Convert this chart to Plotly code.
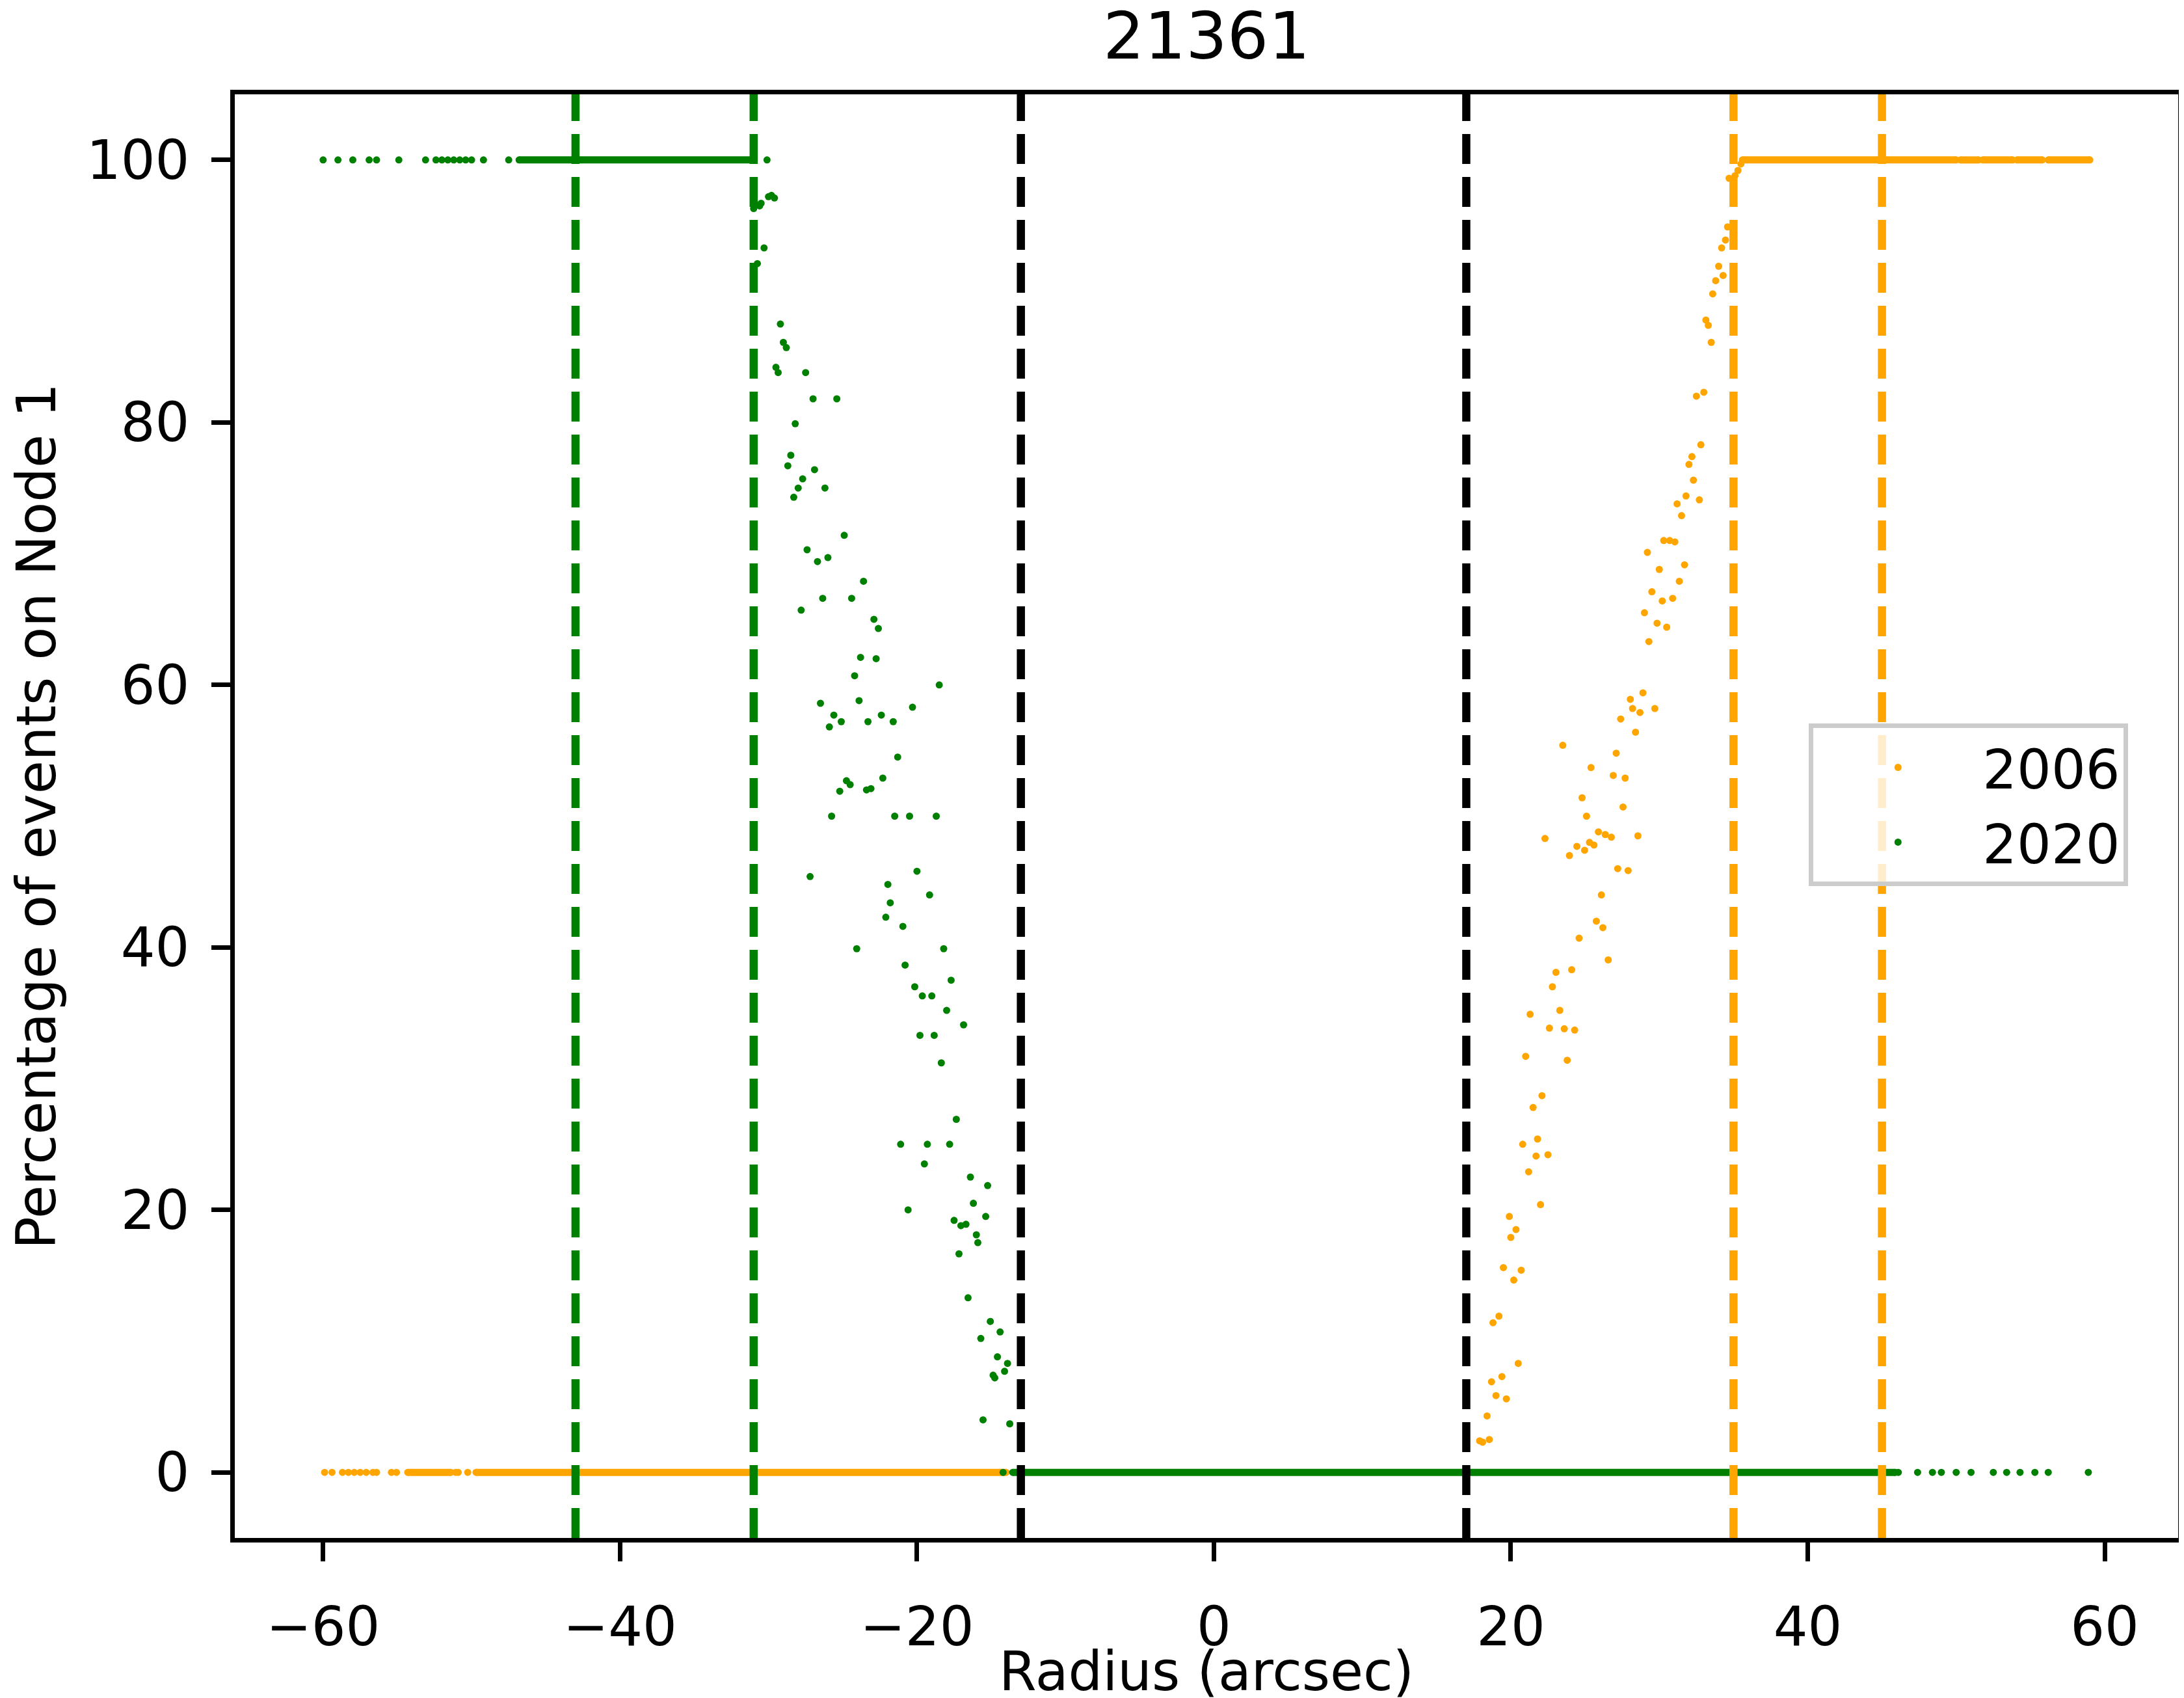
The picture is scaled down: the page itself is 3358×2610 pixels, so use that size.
import plotly.graph_objects as go

# ---------------- text ----------------
title_text = "21361"
x_label = "Radius (arcsec)"
y_label = "Percentage of events on Node 1"
series_names = ["2006", "2020"]
series_colors = ["orange", "green"]

# ---------------- ticks ----------------
x_ticks = [-60, -40, -20, 0, 20, 40, 60]
x_tick_labels = ["\u221260", "\u221240", "\u221220", "0", "20", "40", "60"]
y_ticks = [0, 20, 40, 60, 80, 100]
y_tick_labels = ["0", "20", "40", "60", "80", "100"]

# ---------------- vertical reference lines ----------------
green_lines_x = [-43, -31]
black_lines_x = [-13, 17]
orange_lines_x = [35, 45]

# ---------------- 2006 (orange) ----------------
# isolated points lying on the 0 % level
o_zero_x = [-59.9, -59.4, -58.7, -58.3, -57.9, -57.5, -57.1, -56.65, -56.4,
            -55.4, -55.06, -51.07, -50.9, -50.26]
# transition points
o_mid_x = [17.9, 18.1, 18.55, 18.4, 19.0, 19.7, 19.4, 18.7, 20.5, 19.2, 18.8,
           19.5, 20.7, 20.2, 19.9, 20.35, 20.0, 22.0, 21.2, 21.7, 22.5, 21.8,
           20.8, 21.5, 22.1, 21.0, 23.8, 22.6, 23.6, 24.3, 21.3, 23.3, 22.8,
           23.04, 24.1, 26.56, 24.6, 25.76, 26.2, 26.1, 27.2, 27.9, 24.45,
           23.95, 24.97, 25.3, 25.6, 22.3, 25.9, 26.36, 26.77, 28.56, 25.1,
           27.56, 24.8, 26.9, 27.7, 25.4, 27.1, 23.5, 28.4, 27.4, 28.2, 28.7,
           29.7, 28.05, 28.9, 29.3, 29.85, 30.5, 29.0, 30.2, 30.9, 29.5, 31.35,
           30.0, 31.7, 29.2, 30.3, 30.7, 31.05, 31.5, 31.2, 32.7, 31.8, 32.3,
           32.0, 32.2, 32.8, 32.5, 33.0, 33.5, 33.3, 33.14, 33.6, 33.8, 34.3,
           34.0, 34.2, 34.46, 34.6, 34.7, 35.1, 35.3, 35.5]
o_mid_y = [2.4, 2.3, 2.5, 4.3, 5.85, 5.6, 7.3, 6.9, 8.3, 11.9, 11.4,
           15.6, 15.4, 14.65, 19.5, 18.5, 17.9, 20.4, 22.9, 24.1, 24.2, 25.4,
           25.0, 27.8, 28.7, 31.7, 31.4, 33.85, 33.8, 33.7, 34.9, 35.2, 37.0,
           38.1, 38.3, 39.05, 40.7, 42.0, 41.5, 44.0, 46.0, 45.85, 47.7,
           47.0, 47.4, 48.0, 47.8, 48.3, 48.8, 48.6, 48.4, 48.5, 50.0,
           50.7, 51.4, 53.1, 52.9, 53.7, 54.8, 55.4, 56.4, 57.4, 58.2, 57.9,
           58.2, 58.9, 59.4, 63.3, 64.7, 64.4, 65.5, 66.4, 66.6, 67.1, 67.9,
           68.8, 69.15, 70.1, 71.0, 71.0, 70.9, 72.9, 73.8, 74.1, 74.4, 75.6,
           76.8, 77.4, 78.3, 82.0, 82.3, 86.1, 87.4, 87.8, 89.8, 90.8, 91.2,
           91.9, 93.3, 93.9, 94.9, 98.6, 98.8, 99.2, 99.7]
# densely sampled runs (consecutive points overlap into a solid band)
o_run_start = [-54.3, -49.7, 35.6, 50.3, 51.8, 54.1, 56.2]
o_run_end = [-51.4, -14.0, 50.0, 51.5, 53.8, 55.8, 59.0]
o_run_level = [0, 0, 100, 100, 100, 100, 100]

# ---------------- 2020 (green) ----------------
g_top_x = [-60.0, -59.0, -58.0, -56.9, -56.4, -54.9, -53.1, -52.4, -52.0,
           -51.6, -51.2, -50.8, -50.4, -50.0, -49.2, -47.5]
g_mid_x = [-30.1, -29.8, -29.6, -30.0, -30.5, -30.6, -31.0, -30.3, -30.75,
           -29.2, -29.0, -28.8, -29.5, -29.35, -27.5, -27.0, -25.4, -28.2,
           -28.5, -28.7, -26.9, -27.7, -28.0, -26.2, -28.3, -24.9, -27.4,
           -26.7, -26.0, -23.6, -26.35, -24.4, -27.8, -22.9, -22.6, -23.8,
           -22.75, -24.2, -18.5, -26.5, -23.9, -20.3, -25.6, -22.4, -25.1,
           -23.3, -21.6, -25.9, -21.3, -22.3, -24.75, -24.5, -25.2, -23.4,
           -23.1, -25.75, -21.5, -20.5, -18.7,
           -27.2, -20.0, -21.96, -19.15, -21.8, -22.1, -20.95, -24.06, -18.2,
           -20.8, -17.7, -20.15, -19.64, -19.0, -18.0, -16.86, -19.8, -18.84,
           -18.36, -17.35, -21.1, -19.3, -17.8, -19.5, -16.4, -15.24, -20.6,
           -16.2, -15.37, -17.5, -17.04, -16.7, -16.0, -15.9, -17.17, -16.56,
           -15.06, -14.4, -15.7, -14.58, -13.9, -14.1, -14.87, -14.76, -15.55,
           -13.75, -14.2]
g_mid_y = [100.0, 97.3, 97.1, 97.2, 96.7, 96.5, 96.3, 93.3, 92.1,
           87.5, 86.1, 85.7, 84.2, 83.8, 83.8, 81.8, 81.8, 79.9,
           77.5, 76.7, 76.4, 75.7, 75.0, 75.0, 74.3, 71.4, 70.3,
           69.4, 69.7, 67.9, 66.6, 66.6, 65.7, 65.0, 64.3, 62.1,
           62.0, 60.7, 60.0, 58.6, 58.8, 58.3, 57.7, 57.7, 57.2,
           57.2, 57.2, 56.8, 54.5, 52.9, 52.7, 52.4, 51.9, 52.0,
           52.1, 50.0, 50.0, 50.0, 50.0,
           45.4, 45.8, 44.8, 44.0, 43.4, 42.3, 41.6, 39.9, 39.9,
           38.65, 37.5, 37.0, 36.3, 36.3, 35.2, 34.1, 33.3, 33.3,
           31.2, 26.9, 25.0, 25.0, 25.0, 23.5, 22.5, 21.85, 20.0,
           20.5, 19.5, 19.2, 18.8, 18.9, 18.1, 17.5, 16.65, 13.3,
           11.5, 10.7, 10.2, 8.8, 8.3, 7.7, 7.4, 7.2, 4.0,
           3.7, 0.0]
g_zero_x = [46.1, 47.4, 48.4, 49.0, 50.0, 51.0, 52.5, 53.4, 54.3, 55.3,
            56.2, 58.9]
g_run_start = [-46.8, -13.55]
g_run_end = [-31.0, 45.9]
g_run_level = [100, 0]

# ---------------- styling constants ----------------
DOT = 11
FONT = "DejaVu Sans"
FS = 83
W, H = 3358, 2610


def run_xy(starts, ends, levels):
    xs, ys = [], []
    for a, b, lv in zip(starts, ends, levels):
        xs += [a, b, None]
        ys += [lv, lv, None]
    return xs, ys


fig = go.Figure()

# 2006
o_pts_x = o_zero_x + o_mid_x
o_pts_y = [0.0] * len(o_zero_x) + o_mid_y
fig.add_trace(go.Scatter(x=o_pts_x, y=o_pts_y, mode="markers", name=series_names[0],
                         marker=dict(color=series_colors[0], size=DOT, line=dict(width=0)),
                         legendgroup="o"))
orx, ory = run_xy(o_run_start, o_run_end, o_run_level)
fig.add_trace(go.Scatter(x=orx, y=ory, mode="lines+markers", showlegend=False,
                         legendgroup="o",
                         line=dict(color=series_colors[0], width=DOT),
                         marker=dict(color=series_colors[0], size=DOT, line=dict(width=0))))

# 2020
g_pts_x = g_top_x + g_mid_x + g_zero_x
g_pts_y = [100.0] * len(g_top_x) + g_mid_y + [0.0] * len(g_zero_x)
fig.add_trace(go.Scatter(x=g_pts_x, y=g_pts_y, mode="markers", name=series_names[1],
                         marker=dict(color=series_colors[1], size=DOT, line=dict(width=0)),
                         legendgroup="g"))
grx, gry = run_xy(g_run_start, g_run_end, g_run_level)
fig.add_trace(go.Scatter(x=grx, y=gry, mode="lines+markers", showlegend=False,
                         legendgroup="g",
                         line=dict(color=series_colors[1], width=DOT),
                         marker=dict(color=series_colors[1], size=DOT, line=dict(width=0))))

# vertical dashed lines
for xs, col in [(green_lines_x, "green"), (black_lines_x, "black"), (orange_lines_x, "orange")]:
    for xv in xs:
        fig.add_shape(type="line", xref="x", yref="paper", x0=xv, x1=xv, y0=0, y1=1,
                      line=dict(color=col, width=12.5, dash="46px,20px"), layer="above")

axis_common = dict(showline=True, linecolor="black", linewidth=7, mirror=True,
                   ticks="outside", ticklen=29, tickwidth=7, tickcolor="black",
                   showgrid=False, zeroline=False,
                   tickfont=dict(family=FONT, size=FS, color="black"))

fig.update_xaxes(range=[-65.95, 64.95], tickmode="array", tickvals=x_ticks,
                 ticktext=x_tick_labels, ticklabelstandoff=29,
                 title=dict(text=x_label, font=dict(family=FONT, size=FS, color="black"),
                            standoff=0),
                 **axis_common)
fig.update_yaxes(range=[-5, 105], tickmode="array", tickvals=y_ticks,
                 ticktext=y_tick_labels, ticklabelstandoff=17,
                 title=dict(text=y_label, font=dict(family=FONT, size=FS, color="black"),
                            standoff=63),
                 **axis_common)

fig.update_layout(
    width=W, height=H,
    margin=dict(l=353, r=17, t=137, b=254, autoexpand=False),
    paper_bgcolor="white", plot_bgcolor="white",
    font=dict(family=FONT, size=FS, color="black"),
    title=dict(text=title_text, font=dict(family=FONT, size=100, color="black"),
               x=0.5, xref="paper", xanchor="center",
               y=1 - 12 / H, yref="container", yanchor="top", pad=dict(t=0, b=0)),
    legend=dict(x=0.81, y=0.5642, xanchor="left", yanchor="top",
                bgcolor="rgba(255,255,255,0.8)", bordercolor="#cccccc", borderwidth=7,
                font=dict(family=FONT, size=FS, color="black"),
                itemwidth=250, tracegroupgap=4),
    showlegend=True,
)

fig.write_html("out.html")
